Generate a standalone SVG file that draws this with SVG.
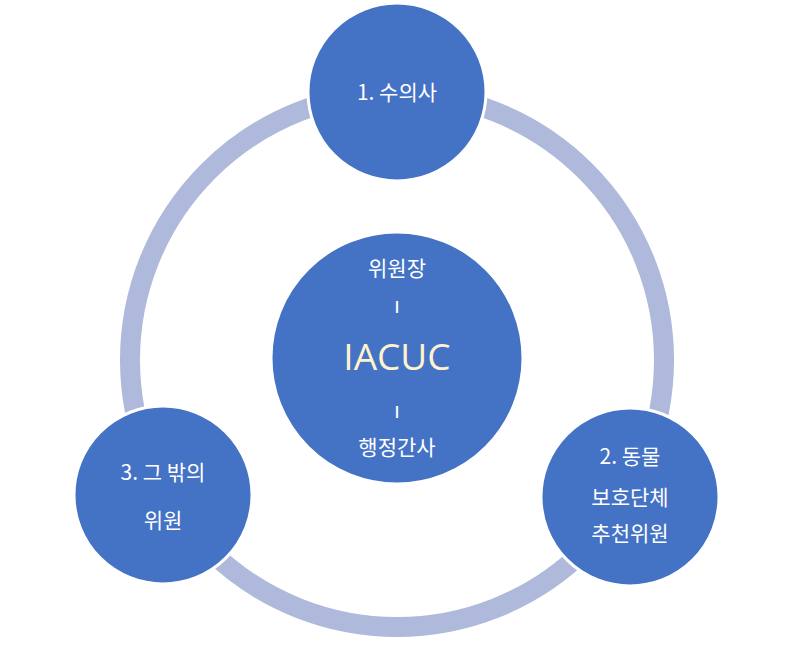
<svg xmlns="http://www.w3.org/2000/svg" width="795" height="671" viewBox="0 0 795 671">
<style>
.n{fill:#4472C4;stroke:#fff;stroke-width:3}
.t{fill:#fff;font-family:"Noto Sans CJK KR","Noto Sans",sans-serif;font-size:21px;text-anchor:middle}
</style>
<rect width="795" height="671" fill="#fff"/>
<g id="connectors">
<circle cx="397" cy="360" r="267" fill="none" stroke="#AEB9DB" stroke-width="20"/>
</g>
<g id="center">
<circle class="n" cx="397" cy="358" r="126"/>
<text class="t" x="397" y="276">위원장</text>
<text class="t" x="397" y="313" font-size="16">ı</text>
<text class="t" x="397" y="370" style="font-size:37px;fill:#FFF2CC;font-family:'Open Sans',sans-serif">IACUC</text>
<text class="t" x="397" y="418" font-size="16">ı</text>
<text class="t" x="397" y="455">행정간사</text>
</g>
<g id="n1">
<circle class="n" cx="397" cy="92" r="89"/>
<text class="t" x="397" y="100">1. 수의사</text>
</g>
<g id="n2">
<circle class="n" cx="630" cy="497" r="89"/>
<text class="t" x="630" y="464">2. 동물</text>
<text class="t" x="630" y="505">보호단체</text>
<text class="t" x="630" y="541">추천위원</text>
</g>
<g id="n3">
<circle class="n" cx="163" cy="495" r="89"/>
<text class="t" x="163" y="480">3. 그 밖의</text>
<text class="t" x="163" y="528">위원</text>
</g>
</svg>
